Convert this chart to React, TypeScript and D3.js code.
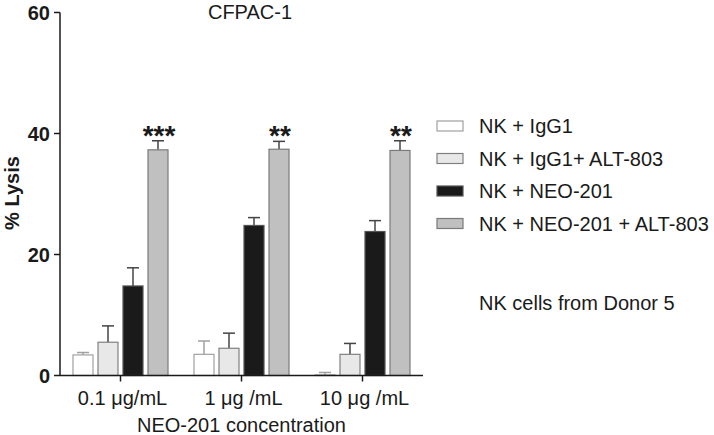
import React from "react";
import * as d3 from "d3";

const categories = ["0.1 \u03bcg/mL", "1 \u03bcg /mL", "10 \u03bcg /mL"];
const seriesNames = ["NK + IgG1", "NK + IgG1+ ALT-803", "NK + NEO-201", "NK + NEO-201 + ALT-803"];
const nkIgG1 = [3.4, 3.5, 0.1];
const nkIgG1Alt = [5.5, 4.5, 3.5];
const nkNeo = [14.8, 24.8, 23.8];
const nkNeoAlt = [37.3, 37.4, 37.2];
const errIgG1 = [0.4, 2.2, 0.4];
const errIgG1Alt = [2.7, 2.5, 1.8];
const errNeo = [3.0, 1.3, 1.8];
const errNeoAlt = [1.5, 1.3, 1.6];
const stars = ["***", "**", "**"];
const yTicks = [0, 20, 40, 60];

const fills = ["#ffffff", "#e8e8e8", "#1a1a1a", "#c0c0c0"];
const strokes = ["#a0a0a0", "#808080", "#555555", "#7a7a7a"];
const errColors = ["#a0a0a0", "#444444", "#444444", "#444444"];

const FONT = "'Liberation Sans', Arial, Helvetica, sans-serif";

export default function App() {
  const values = [nkIgG1, nkIgG1Alt, nkNeo, nkNeoAlt];
  const errs = [errIgG1, errIgG1Alt, errNeo, errNeoAlt];

  const y = d3.scaleLinear().domain([0, 60]).range([375.5, 12.5]);
  const x0 = d3.scaleBand<string>().domain(categories).range([60, 423]).padding(0);
  const x1 = d3
    .scaleBand<number>()
    .domain([0, 1, 2, 3])
    .range([0, x0.bandwidth()])
    .paddingInner(0.2)
    .paddingOuter(0.52);
  const bw = x1.bandwidth();
  const capW = 12;
  const fs = 20;

  return (
    <svg
      width={714}
      height={435}
      style={{ position: "absolute", left: 0, top: 0, background: "#fff" }}
      fontFamily={FONT}
    >
      {/* title */}
      <text x={250} y={19} textAnchor="middle" fontSize={fs} fill="#1a1a1a">
        CFPAC-1
      </text>

      {/* bars */}
      {categories.map((c, gi) => (
        <g key={c}>
          {values.map((vals, si) => {
            const bx = (x0(c) as number) + (x1(si) as number);
            const top = y(vals[gi]);
            const et = y(vals[gi] + errs[si][gi]);
            const cx = bx + bw / 2;
            return (
              <g key={si}>
                <line x1={cx} x2={cx} y1={top} y2={et} stroke={errColors[si]} strokeWidth={1.5} />
                <line x1={cx - capW / 2} x2={cx + capW / 2} y1={et} y2={et} stroke={errColors[si]} strokeWidth={1.5} />
                <rect
                  x={bx}
                  y={top}
                  width={bw}
                  height={Math.max(0, y(0) - top)}
                  fill={fills[si]}
                  stroke={strokes[si]}
                  strokeWidth={1.2}
                />
              </g>
            );
          })}
          {(() => {
            const si = 3;
            const cx = (x0(c) as number) + (x1(si) as number) + bw / 2;
            const et = y(values[si][gi] + errs[si][gi]);
            return (
              <text x={cx + 1} y={et + 4} textAnchor="middle" fontSize={28} fontWeight="bold" fill="#1a1a1a">
                {stars[gi]}
              </text>
            );
          })()}
        </g>
      ))}

      {/* y axis */}
      <line x1={60} x2={60} y1={y(60)} y2={y(0)} stroke="#1a1a1a" strokeWidth={1.5} />
      {yTicks.map((t) => (
        <g key={t}>
          <line x1={54} x2={60} y1={y(t)} y2={y(t)} stroke="#1a1a1a" strokeWidth={1.5} />
          <text
            x={50}
            y={y(t)}
            dy="0.36em"
            textAnchor="end"
            fontSize={fs}
            fontWeight="bold"
            fill="#1a1a1a"
          >
            {t}
          </text>
        </g>
      ))}
      <text
        transform={`translate(18.5, 193) rotate(-90)`}
        textAnchor="middle"
        fontSize={fs}
        fontWeight="bold"
        fill="#1a1a1a"
      >
        % Lysis
      </text>

      {/* x axis */}
      <line x1={60} x2={423} y1={y(0)} y2={y(0)} stroke="#1a1a1a" strokeWidth={1.5} />
      {categories.map((c) => {
        const cx = (x0(c) as number) + x0.bandwidth() / 2;
        return (
          <g key={c}>
            <line x1={cx} x2={cx} y1={y(0)} y2={y(0) + 6} stroke="#1a1a1a" strokeWidth={1.5} />
            <text x={cx + 2} y={405} textAnchor="middle" fontSize={fs} fill="#1a1a1a">
              {c}
            </text>
          </g>
        );
      })}
      <text x={241.5} y={432} textAnchor="middle" fontSize={fs} fill="#1a1a1a">
        NEO-201 concentration
      </text>

      {/* legend */}
      {seriesNames.map((n, i) => {
        const cy = 126 + i * 32.5;
        return (
          <g key={n}>
            <rect x={437} y={cy - 5} width={26} height={10} fill={fills[i]} stroke={strokes[i]} strokeWidth={1.2} />
            <text x={479} y={cy} dy="0.36em" fontSize={fs} fill="#1a1a1a">
              {n}
            </text>
          </g>
        );
      })}
      <text x={479} y={303} dy="0.36em" fontSize={fs} fill="#1a1a1a">
        NK cells from Donor 5
      </text>
    </svg>
  );
}
